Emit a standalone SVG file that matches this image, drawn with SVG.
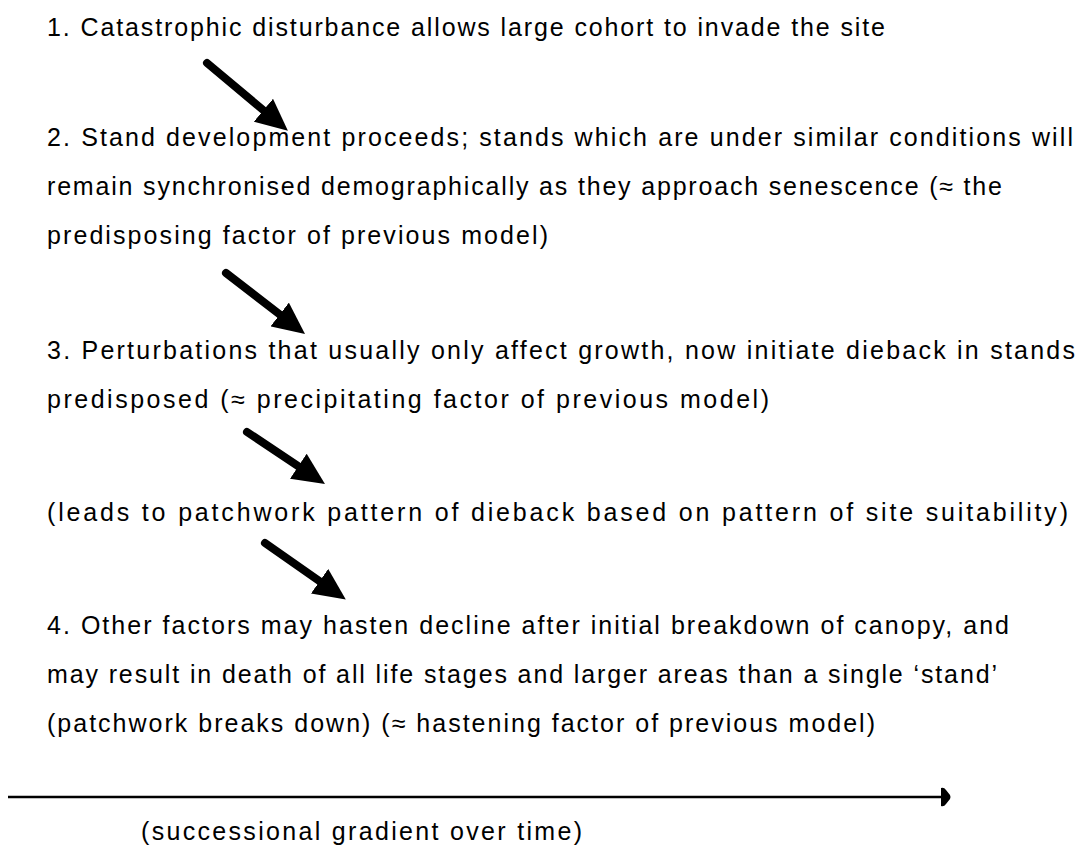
<svg xmlns="http://www.w3.org/2000/svg" width="1087" height="847" viewBox="0 0 1087 847">
<style>
  text { font-family: "Liberation Sans", Arial, sans-serif; font-size: 25px; fill: #000; }
  .arrow { stroke: #000; stroke-width: 8; stroke-linecap: round; fill: none; }
  .axis { stroke: #000; stroke-width: 2.5; fill: none; }
</style>
<defs>
  <marker id="head" markerUnits="userSpaceOnUse" markerWidth="32" markerHeight="30" viewBox="0 0 32 30" refX="11" refY="15" orient="auto">
    <path d="M0,0 L32,15 L0,30 z" fill="#000"/>
  </marker>
  <marker id="axishead" markerUnits="userSpaceOnUse" markerWidth="10" markerHeight="20" viewBox="0 0 10 20" refX="1" refY="10" orient="auto">
    <path d="M0,1 Q3,0 5,3 L9,8 Q10,10 9,12 L5,17 Q3,20 0,19 z" fill="#000"/>
  </marker>
</defs>
<g id="texts">
  <g id="step1"><text x="47" y="36" textLength="838" lengthAdjust="spacing">1.  Catastrophic disturbance allows large cohort to invade the site</text></g>
  <g id="step2">
    <text x="47" y="146" textLength="1026" lengthAdjust="spacing">2.  Stand development proceeds; stands which are under similar conditions will</text>
    <text x="47" y="195" textLength="955" lengthAdjust="spacing">remain synchronised demographically as they approach senescence (≈ the</text>
    <text x="47" y="244" textLength="501" lengthAdjust="spacing">predisposing factor of previous model)</text>
  </g>
  <g id="step3">
    <text x="47" y="359" textLength="1028" lengthAdjust="spacing">3.  Perturbations that usually only affect growth, now initiate dieback in stands</text>
    <text x="47" y="408" textLength="722" lengthAdjust="spacing">predisposed (≈ precipitating factor of previous model)</text>
  </g>
  <g id="patchwork"><text x="47" y="521" textLength="1021" lengthAdjust="spacing">(leads to patchwork pattern of dieback based on pattern of site suitability)</text></g>
  <g id="step4">
    <text x="47" y="634" textLength="962" lengthAdjust="spacing">4.  Other factors may hasten decline after initial breakdown of canopy, and</text>
    <text x="47" y="683" textLength="950" lengthAdjust="spacing">may result in death of all life stages and larger areas than a single ‘stand’</text>
    <text x="47" y="732" textLength="828" lengthAdjust="spacing">(patchwork breaks down) (≈ hastening factor of previous model)</text>
  </g>
  <g id="gradient-label"><text x="141" y="840" textLength="441" lengthAdjust="spacing">(successional gradient over time)</text></g>
</g>
<g id="connectors">
  <line class="arrow" x1="207" y1="63" x2="271.8" y2="117.3" marker-end="url(#head)"/>
  <line class="arrow" x1="226" y1="273" x2="288.4" y2="321.2" marker-end="url(#head)"/>
  <line class="arrow" x1="247" y1="432" x2="307.5" y2="472.3" marker-end="url(#head)"/>
  <line class="arrow" x1="265" y1="543" x2="328.6" y2="587.5" marker-end="url(#head)"/>
  <line class="axis" x1="8" y1="797" x2="942" y2="797" marker-end="url(#axishead)"/>
</g>
</svg>
